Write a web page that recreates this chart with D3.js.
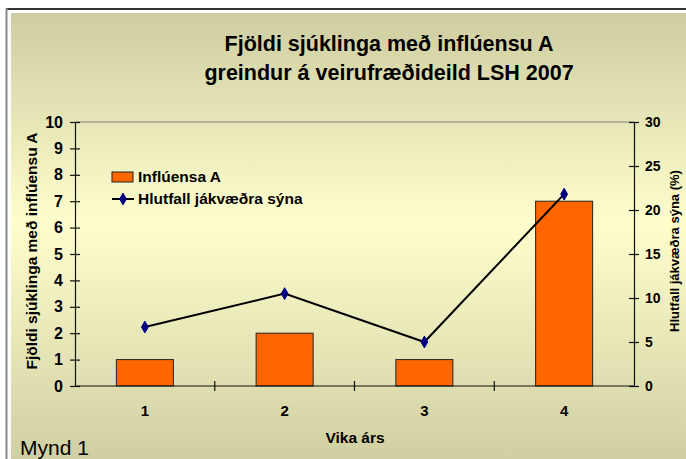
<!DOCTYPE html>
<html><head><meta charset="utf-8">
<script src="https://cdn.jsdelivr.net/npm/d3@7"></script>
<style>body{margin:0;background:#fff}svg{display:block}</style>
</head><body>
<svg id="c" width="686" height="459" font-family="Liberation Sans, Arial, sans-serif"></svg>
<script>
const weeks = ["1","2","3","4"];
const influenzaA = [1, 2, 1, 7];
const positivePct = [6.7, 10.5, 5.0, 21.8];
const leftTicks = [0,1,2,3,4,5,6,7,8,9,10];
const rightTicks = [0,5,10,15,20,25,30];
const titleLines = ["Fjöldi sjúklinga með inflúensu A","greindur á veirufræðideild LSH 2007"];

const FONT = "Liberation Sans, Arial, sans-serif";
const svg = d3.select("#c");
const defs = svg.append("defs");
const g = defs.append("linearGradient").attr("id","bg").attr("gradientUnits","userSpaceOnUse")
  .attr("x1",0).attr("y1",13).attr("x2",0).attr("y2",459);
g.append("stop").attr("offset","0").attr("stop-color","#cdcda1");
g.append("stop").attr("offset","0.47").attr("stop-color","#fefecd");
g.append("stop").attr("offset","1").attr("stop-color","#cfcfa2");

// frame
svg.append("line").attr("x1",6).attr("x2",686).attr("y1",9).attr("y2",9).attr("stroke","#333").attr("stroke-width",2);
svg.append("line").attr("x1",6.5).attr("x2",6.5).attr("y1",8).attr("y2",459).attr("stroke","#888").attr("stroke-width",2);
svg.append("rect").attr("x",11).attr("y",13).attr("width",675).attr("height",446).attr("fill","url(#bg)");

const m = {l:75, r:634, t:122, b:386};
const x = d3.scaleBand().domain(weeks).range([m.l,m.r]);
const yL = d3.scaleLinear().domain([0,10]).range([m.b,m.t]);
const yR = d3.scaleLinear().domain([0,30]).range([m.b,m.t]);

const txt = (sel, size, bold) => sel.attr("font-size",size).attr("font-weight",bold?"bold":"normal").attr("fill","#000").attr("font-family",FONT);

// title
txt(svg.append("text").attr("x",389).attr("y",51).attr("text-anchor","middle"),21.5,true).text(titleLines[0]);
txt(svg.append("text").attr("x",389).attr("y",80).attr("text-anchor","middle"),21.5,true).text(titleLines[1]);

// plot top border
svg.append("line").attr("x1",m.l).attr("x2",m.r).attr("y1",m.t).attr("y2",m.t).attr("stroke","#808080").attr("stroke-width",1);

// bars
const bw = 57;
svg.append("g").selectAll("rect").data(influenzaA).join("rect")
  .attr("x",(d,i)=>x(weeks[i])+x.bandwidth()/2-bw/2)
  .attr("y",d=>yL(d)).attr("width",bw).attr("height",d=>m.b-yL(d))
  .attr("fill","#ff6600").attr("stroke","#222").attr("stroke-width",1);

// axes
const axStyle = (sel,size) => {
  sel.attr("font-size",size).attr("font-family",FONT).attr("font-weight","bold");
  sel.selectAll(".domain").attr("stroke","#111").attr("stroke-width",1.2);
  sel.selectAll(".tick line").attr("stroke","#111").attr("stroke-width",1.2);
  sel.selectAll("text").attr("fill","#000");
};
const gl = svg.append("g").attr("transform",`translate(${m.l},0)`)
  .call(d3.axisLeft(yL).tickValues(leftTicks).tickSize(5).tickPadding(4).tickSizeOuter(0));
axStyle(gl,16);
gl.selectAll(".tick line").attr("x1",5).attr("x2",-5);
gl.selectAll(".tick text").attr("x",-12);

const gr = svg.append("g").attr("transform",`translate(${m.r},0)`)
  .call(d3.axisRight(yR).tickValues(rightTicks).tickSize(5).tickPadding(4).tickSizeOuter(0));
axStyle(gr,14);
gr.selectAll(".tick line").attr("x1",-5).attr("x2",5);
gr.selectAll(".tick text").attr("x",11);

const gb = svg.append("g").attr("transform",`translate(0,${m.b})`)
  .call(d3.axisBottom(x).tickSize(0).tickPadding(19).tickSizeOuter(0));
axStyle(gb,15);
gb.select(".domain").attr("d",`M${m.l},0H${m.r}`);
const bounds = weeks.slice(1).map(w=>x(w));
gb.selectAll(".btick").data(bounds).join("line").attr("class","btick")
  .attr("x1",d=>d).attr("x2",d=>d).attr("y1",-5).attr("y2",5).attr("stroke","#111").attr("stroke-width",1.2);

// line series
const line = d3.line().x((d,i)=>x(weeks[i])+x.bandwidth()/2).y(d=>yR(d));
svg.append("path").datum(positivePct).attr("d",line).attr("fill","none").attr("stroke","#000").attr("stroke-width",2);
const diamond = d3.symbol().type(d3.symbolDiamond).size(40);
svg.append("g").selectAll("path").data(positivePct).join("path")
  .attr("transform",(d,i)=>`translate(${x(weeks[i])+x.bandwidth()/2},${yR(d)})`)
  .attr("d",diamond).attr("fill","#000080").attr("stroke","#000080");

// axis titles
txt(svg.append("text").attr("transform","translate(37,251) rotate(-90)").attr("text-anchor","middle"),15.5,true).text("Fjöldi sjúklinga með inflúensu A");
txt(svg.append("text").attr("transform","translate(679,251) rotate(-90)").attr("text-anchor","middle"),13,true).text("Hlutfall jákvæðra sýna (%)");
txt(svg.append("text").attr("x",355).attr("y",443).attr("text-anchor","middle"),15.5,true).text("Vika árs");
txt(svg.append("text").attr("x",20).attr("y",455),21,false).text("Mynd 1");

// legend
const lg = svg.append("g");
lg.append("rect").attr("x",112).attr("y",172).attr("width",21).attr("height",10).attr("fill","#ff6600").attr("stroke","#222");
txt(lg.append("text").attr("x",138).attr("y",182),15.5,true).text("Inflúensa A");
lg.append("line").attr("x1",112).attr("x2",134).attr("y1",199).attr("y2",199).attr("stroke","#000").attr("stroke-width",2);
lg.append("path").attr("transform","translate(123,199)").attr("d",diamond).attr("fill","#000080").attr("stroke","#000080");
txt(lg.append("text").attr("x",138).attr("y",204),15.5,true).text("Hlutfall jákvæðra sýna");
</script>
</body></html>
